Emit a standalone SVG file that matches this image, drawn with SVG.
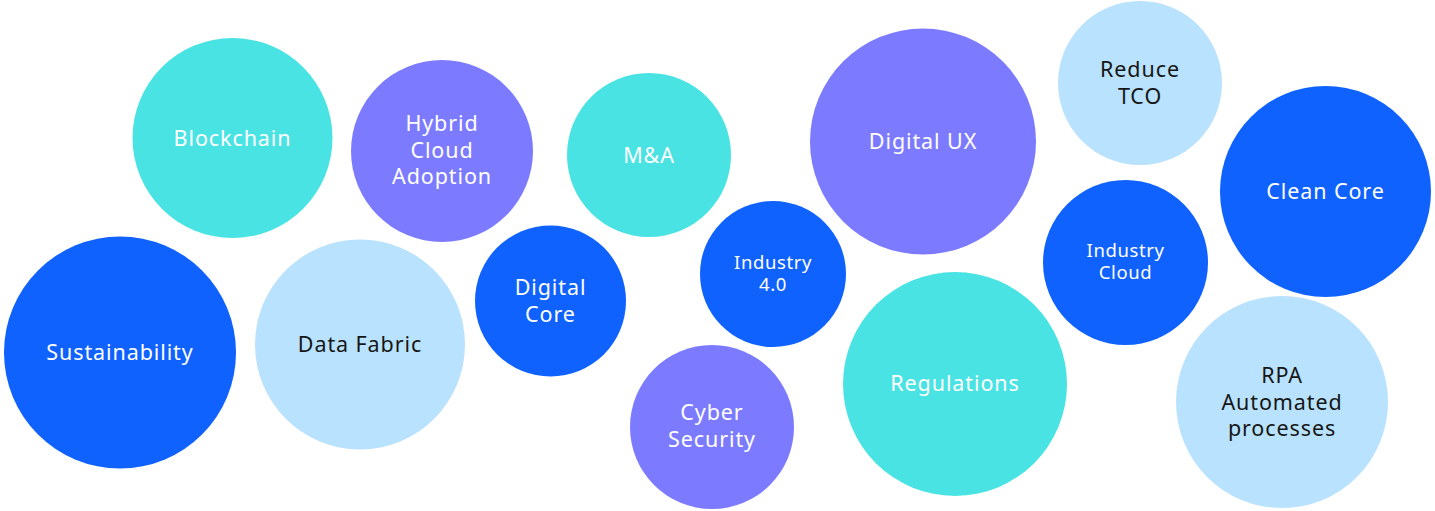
<svg xmlns="http://www.w3.org/2000/svg" width="1435" height="511" viewBox="0 0 1435 511">
<style>
.teal{fill:#4AE3E3}
.purple{fill:#7C7BFF}
.blue{fill:#0F62FE}
.light{fill:#B8E2FD}
text{font-family:"Noto Sans","Open Sans",sans-serif;font-size:21.5px;text-anchor:middle;letter-spacing:0.9px}
.w{fill:#FFFFFF}
.k{fill:#161616}
.sm{font-size:18.5px;letter-spacing:0.6px}
</style>
<rect width="1435" height="511" fill="#FFFFFF"/>
<g id="connectors"></g>
<g id="blockchain"><circle class="teal" cx="232.5" cy="138" r="100"/><text class="w" x="232.5" y="146">Blockchain</text></g>
<g id="hybrid-cloud"><circle class="purple" cx="442" cy="151" r="91"/><text class="w" x="442" y="131">Hybrid</text><text class="w" x="442" y="158">Cloud</text><text class="w" x="442" y="184">Adoption</text></g>
<g id="ma"><circle class="teal" cx="649" cy="155" r="82"/><text class="w" x="649" y="163">M&amp;A</text></g>
<g id="digital-ux"><circle class="purple" cx="923" cy="141.5" r="113"/><text class="w" x="923" y="149">Digital UX</text></g>
<g id="reduce-tco"><circle class="light" cx="1140" cy="83" r="82"/><text class="k" x="1140" y="77">Reduce</text><text class="k" x="1140" y="104">TCO</text></g>
<g id="clean-core"><circle class="blue" cx="1325.5" cy="191.5" r="105.5"/><text class="w" x="1325.5" y="199">Clean Core</text></g>
<g id="sustainability"><circle class="blue" cx="120" cy="352.5" r="116"/><text class="w" x="120" y="360">Sustainability</text></g>
<g id="data-fabric"><circle class="light" cx="360" cy="344.5" r="105"/><text class="k" x="360" y="352">Data Fabric</text></g>
<g id="digital-core"><circle class="blue" cx="550.5" cy="301" r="75.5"/><text class="w" x="550.5" y="295">Digital</text><text class="w" x="550.5" y="322">Core</text></g>
<g id="industry-40"><circle class="blue" cx="773" cy="274" r="73"/><text class="w sm" x="773" y="269">Industry</text><text class="w sm" x="773" y="291">4.0</text></g>
<g id="cyber-security"><circle class="purple" cx="712" cy="427" r="82"/><text class="w" x="712" y="420">Cyber</text><text class="w" x="712" y="447">Security</text></g>
<g id="regulations"><circle class="teal" cx="955" cy="384" r="112"/><text class="w" x="955" y="391">Regulations</text></g>
<g id="industry-cloud"><circle class="blue" cx="1125.5" cy="262.5" r="82.5"/><text class="w sm" x="1125.5" y="257">Industry</text><text class="w sm" x="1125.5" y="279">Cloud</text></g>
<g id="rpa"><circle class="light" cx="1282" cy="402" r="106"/><text class="k" x="1282" y="383">RPA</text><text class="k" x="1282" y="410">Automated</text><text class="k" x="1282" y="436">processes</text></g>
</svg>
